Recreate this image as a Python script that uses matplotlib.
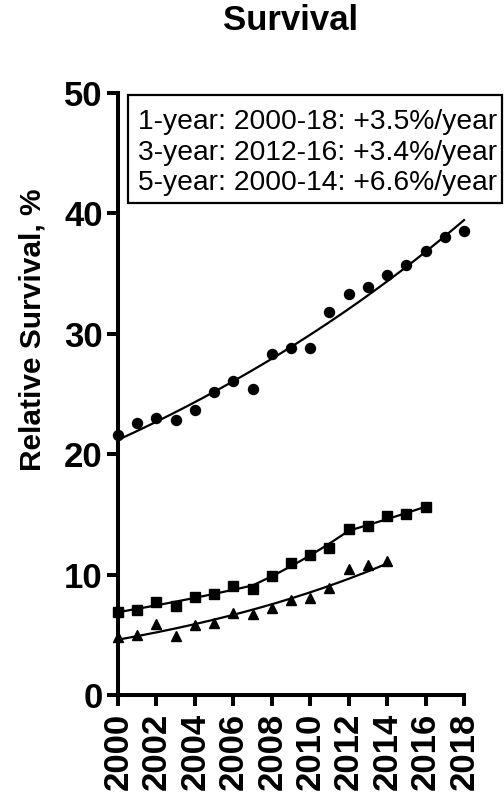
import numpy as np
import matplotlib
matplotlib.use("Agg")
import matplotlib.pyplot as plt
from matplotlib.patches import Rectangle

plt.rcParams['font.family'] = ['Liberation Sans', 'DejaVu Sans']

W, H = 504, 798

years_1 = np.arange(2000, 2019)
surv_1 = [21.6, 22.6, 23.0, 22.8, 23.7, 25.2, 26.1, 25.4, 28.3, 28.8,
          28.8, 31.8, 33.3, 33.9, 34.9, 35.7, 36.9, 38.0, 38.5]

years_3 = np.arange(2000, 2017)
surv_3 = [6.9, 7.1, 7.7, 7.4, 8.1, 8.4, 9.05, 8.8, 9.9, 11.0,
          11.6, 12.2, 13.8, 14.0, 14.9, 15.0, 15.6]
joins_3 = [2007, 2012]

years_5 = np.arange(2000, 2015)
surv_5 = [4.8, 5.0, 5.9, 4.9, 5.85, 5.95, 6.85, 6.75, 7.2, 7.9,
          8.05, 8.85, 10.5, 10.8, 11.1]

legend_lines = ["1-year: 2000-18: +3.5%/year",
                "3-year: 2012-16: +3.4%/year",
                "5-year: 2000-14: +6.6%/year"]


# log-linear (joinpoint style) fit, continuous at the join years
def joinpoint_fit(x, y, joins):
    x = np.asarray(x, float)
    def design(t):
        cols = [np.ones_like(t), t - x[0]]
        for j in joins:
            cols.append(np.maximum(t - j, 0))
        return np.column_stack(cols)
    coef, *_ = np.linalg.lstsq(design(x), np.log(y), rcond=None)
    tt = np.linspace(x[0], x[-1], 200)
    return tt, np.exp(design(tt) @ coef)


fig = plt.figure(figsize=(W / 100, H / 100), dpi=100)
ax = fig.add_axes([118 / W, 1 - 695 / H, (464 - 118) / W, (695 - 93) / H])

for yrs, vals, joins, mk, ms in [(years_1, surv_1, [], 'o', 7.2),
                                 (years_3, surv_3, joins_3, 's', 7),
                                 (years_5, surv_5, [], '^', 7.8)]:
    tt, fit = joinpoint_fit(yrs, vals, joins)
    ax.plot(tt, fit, color='black', lw=1.6, clip_on=False)
    ax.plot(yrs, vals, linestyle='none', marker=mk, ms=ms, color='black',
            clip_on=False)

ax.set_xlim(2000, 2018)
ax.set_ylim(0, 50)
ax.set_xticks(np.arange(2000, 2019, 2))
ax.set_yticks(np.arange(0, 51, 10))
for side in ['top', 'right']:
    ax.spines[side].set_visible(False)
for side in ['left', 'bottom']:
    ax.spines[side].set_linewidth(2.9)
ax.tick_params(width=2.9, length=8, labelsize=25, pad=3)
ax.tick_params(axis='x', pad=5)
for lab in ax.get_xticklabels() + ax.get_yticklabels():
    lab.set_fontweight('bold')
for lab in ax.get_xticklabels():
    lab.set_rotation(90)

ax.set_ylabel("Relative Survival, %", fontsize=21.5, fontweight='bold')
ax.yaxis.set_label_coords(-0.208, 0.606)

fig.text(291 / W, 1 - 20 / H, "Survival", fontsize=25, fontweight='bold',
         ha='center', va='center')

# text box
fig.patches.append(Rectangle((128 / W, 1 - 203 / H), 374 / W, 108 / H,
                             transform=fig.transFigure, fill=False,
                             lw=1.6, edgecolor='black'))
for i, line in enumerate(legend_lines):
    fig.text(138 / W, 1 - (129 + 30.5 * i) / H, line, fontsize=20.3,
             ha='left', va='baseline')

fig.savefig("out.png", dpi=100)
